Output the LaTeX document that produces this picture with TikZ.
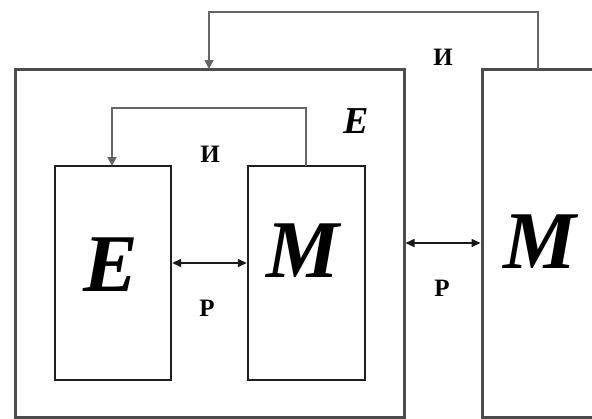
\documentclass[tikz,border=0pt]{standalone}
\usepackage{fontspec}
\setmainfont{Liberation Serif}
\usetikzlibrary{arrows.meta}
\tikzset{
  outerbox/.style={draw=black!70, line width=3pt},
  innerbox/.style={draw=black!88, line width=2.4pt},
  loopline/.style={draw=black!60, line width=1.8pt, -{Triangle[length=9pt,width=9pt]}},
  link/.style={draw=black!90, line width=1.6pt, {Triangle[length=9pt,width=8pt]}-{Triangle[length=9pt,width=8pt]}},
  bigletter/.style={font=\fontsize{82}{82}\selectfont\bfseries\itshape, inner sep=0pt},
  tag/.style={font=\fontsize{25}{25}\selectfont\bfseries, inner sep=0pt},
}
\begin{document}
\begin{tikzpicture}[x=1pt, y=-1pt]
  \useasboundingbox (0,0) rectangle (592,418);
  \clip (0,0) rectangle (592,418);

  % outer system E and the external medium M
  \draw[outerbox] (15,69) rectangle (404,417.5);
  \draw[outerbox] (482,69) rectangle (620,417.5);
  \coordinate (mOut) at (538,69);
  \node[font=\fontsize{38}{38}\selectfont\bfseries\itshape, inner sep=0pt] (labE) at (356,121) {E};

  % inner blocks
  \node[innerbox, minimum width=116pt, minimum height=214pt, inner sep=0pt] (e) at (113,273) {};
  \node[innerbox, minimum width=117pt, minimum height=214pt, inner sep=0pt] (m) at (306.5,273) {};
  \node[bigletter] (eL) at (111,265) {E};
  \node[bigletter] (mL) at (303,251) {M};
  \node[bigletter] (mR) at (540,242) {M};

  % inner feedback И
  \draw[loopline] (306,166) |- (112,108) -- (112,166);
  \node[tag] (i1) at (210,154) {И};

  % outer feedback И
  \draw[loopline] (mOut) |- (209,12) -- (209,69);
  \node[tag] (i2) at (443,57) {И};

  % exchange links Р
  \draw[link] (e.east |- 0,263) -- (m.west |- 0,263);
  \node[tag] (p1) at (207,308) {Р};
  \draw[link] (405.5,243) -- (480.5,243);
  \node[tag] (p2) at (442,288) {Р};
\end{tikzpicture}
\end{document}
